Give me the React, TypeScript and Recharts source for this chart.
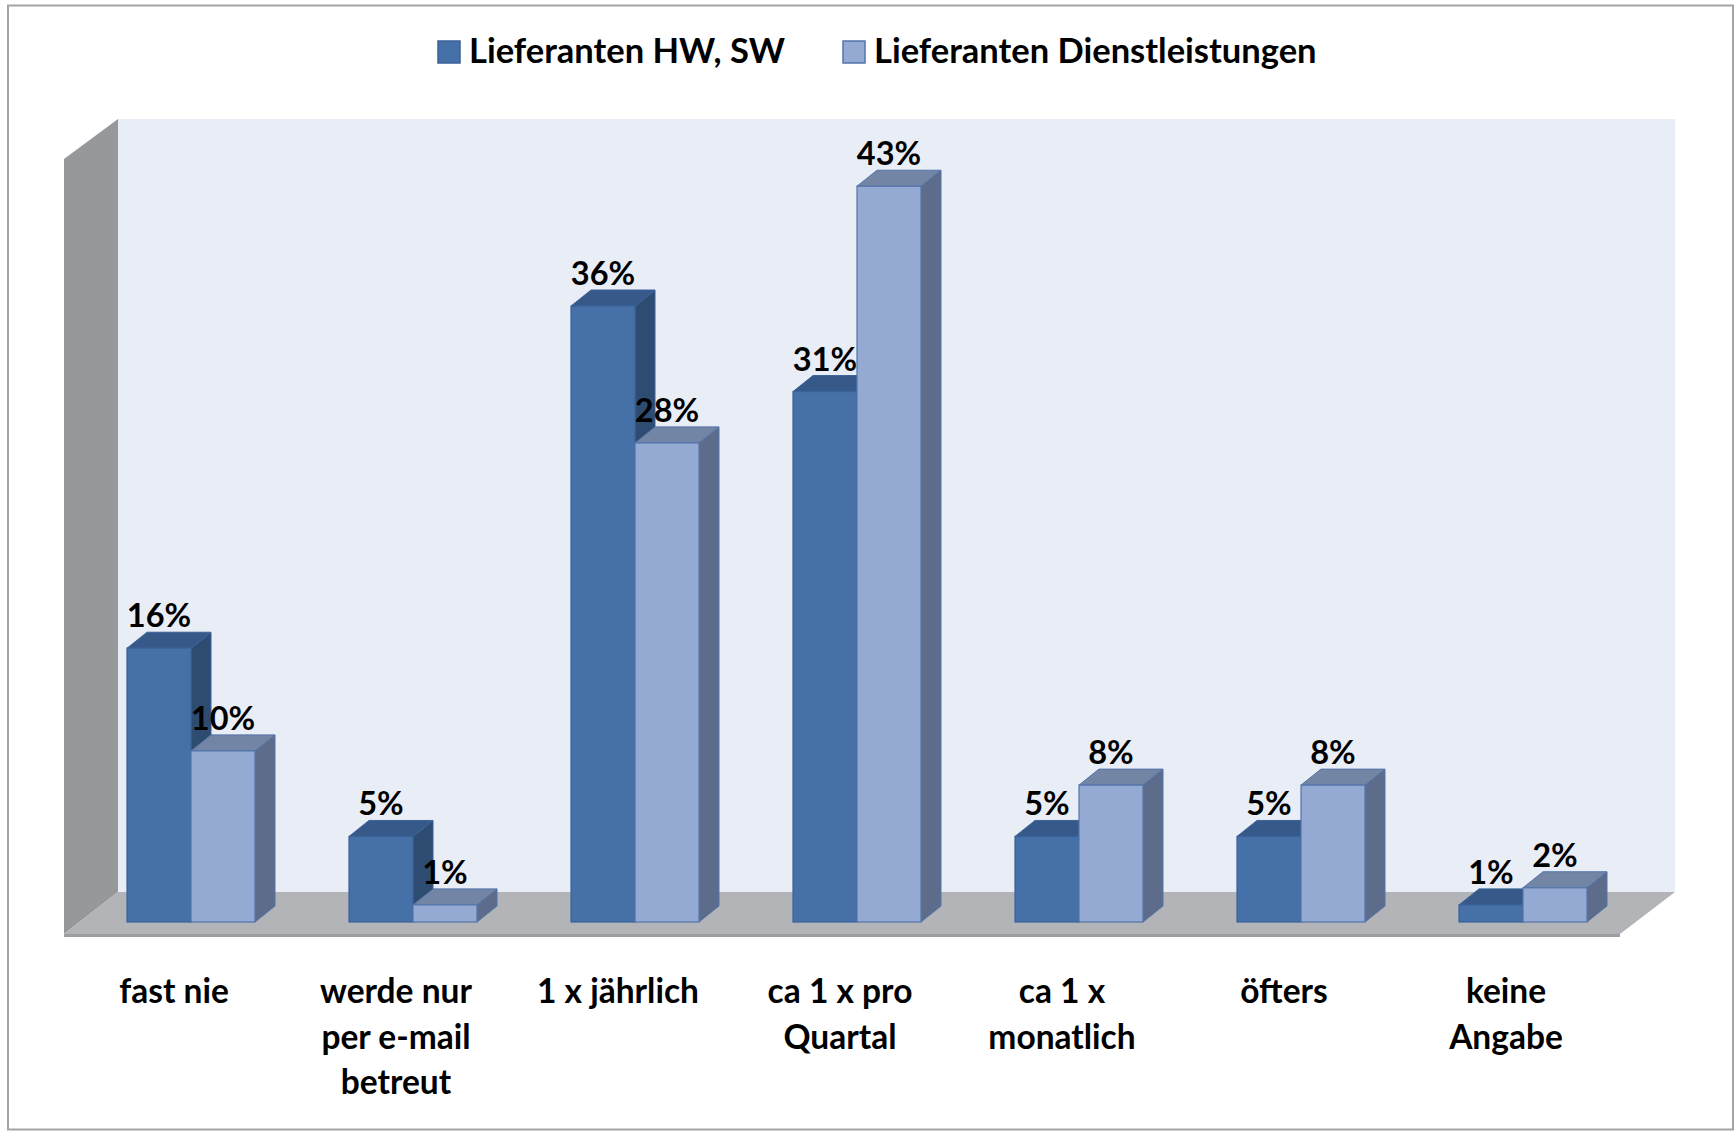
import React from "react";
import { BarChart, Bar, XAxis, YAxis, Legend, LabelList } from "recharts";

const CATEGORIES = [
  "fast nie",
  "werde nur\nper e-mail\nbetreut",
  "1 x jährlich",
  "ca 1 x pro\nQuartal",
  "ca 1 x\nmonatlich",
  "öfters",
  "keine\nAngabe",
];
const HW_SW = [16, 5, 36, 31, 5, 5, 1];
const DIENSTLEISTUNGEN = [10, 1, 28, 43, 8, 8, 2];
const SERIES_NAMES = ["Lieferanten HW, SW", "Lieferanten Dienstleistungen"];
const Y_DOMAIN: [number, number] = [0, 45];

const data = CATEGORIES.map((name, i) => ({
  name,
  hw: HW_SW[i],
  dl: DIENSTLEISTUNGEN[i],
}));

const W = 1735;
const H = 1132;
const AXIS_H = 210;
const MARGIN = { top: 152, right: 101, left: 80, bottom: 0 };
const PLOT_BOTTOM = H - AXIS_H;
const FONT = "Lato, 'Open Sans', sans-serif";

const DEPTH_X = 20;
const DEPTH_Y = 16;

const BLUE = { front: "#4571A8", top: "#36598A", side: "#2E4B72", edge: "#3A6399" };
const LIGHT = { front: "#95AAD3", top: "#7385A4", side: "#5D6C8A", edge: "#5274AB" };

// 3D box: front face, top face and right side
function box3d(c: typeof BLUE) {
  return (props: any) => {
    const { x, y, width, height } = props;
    if (height == null || width == null) return <g />;
    const b = y + height;
    const r = x + width;
    return (
      <g>
        <polygon
          points={`${r},${y} ${r + DEPTH_X},${y - DEPTH_Y} ${r + DEPTH_X},${b - DEPTH_Y} ${r},${b}`}
          fill={c.side}
          stroke={c.edge}
          strokeWidth={1}
        />
        <polygon
          points={`${x},${y} ${x + DEPTH_X},${y - DEPTH_Y} ${r + DEPTH_X},${y - DEPTH_Y} ${r},${y}`}
          fill={c.top}
          stroke={c.edge}
          strokeWidth={1}
        />
        <rect x={x} y={y} width={width} height={height} fill={c.front} stroke={c.edge} strokeWidth={1.2} />
      </g>
    );
  };
}

function ValueLabel(props: any) {
  const { x, y, width, value } = props;
  return (
    <text
      x={x + width / 2}
      y={y - 21}
      textAnchor="middle"
      fontFamily={FONT}
      fontWeight={700}
      fontSize={32.5}
      fill="#000"
    >
      {value}%
    </text>
  );
}

function CategoryTick(props: any) {
  const { x, payload } = props;
  const lines = String(payload.value).split("\n");
  const cx = x - 17;
  return (
    <text textAnchor="middle" fontFamily={FONT} fontWeight={700} fontSize={33.5} fill="#000">
      {lines.map((l, i) => (
        <tspan key={i} x={cx} y={PLOT_BOTTOM + 81 + i * 45.5}>
          {l}
        </tspan>
      ))}
    </text>
  );
}

const LEGEND_X = [438, 843];

function LegendContent(props: any) {
  const items = [...(props.payload || [])].sort(
    (a: any, b: any) => SERIES_NAMES.indexOf(a.value) - SERIES_NAMES.indexOf(b.value)
  );
  return (
    <svg width={W} height={90} style={{ display: "block" }}>
      {items.map((it: any, i: number) => {
        const edge = i === 0 ? BLUE.edge : LIGHT.edge;
        return (
          <g key={i}>
            <rect x={LEGEND_X[i]} y={41} width={22} height={22} fill={it.color} stroke={edge} strokeWidth={1.5} />
            <text
              x={LEGEND_X[i] + 31}
              y={63}
              fontFamily={FONT}
              fontWeight={700}
              fontSize={34.5}
              fill="#000"
            >
              {it.value}
            </text>
          </g>
        );
      })}
    </svg>
  );
}

// back wall, side wall and floor of the 3D frame
function Backdrop() {
  const bx0 = 118, bx1 = 1675, btop = 119, bfloor = 892;
  const fx0 = 64, fx1 = 1620, ftop = 159, ffloor = 934;
  return (
    <svg width={W} height={H} style={{ position: "absolute", left: 0, top: 0, zIndex: 0 }}>
      <rect x={8} y={5.5} width={1725} height={1124} fill="none" stroke="#A3A3A3" strokeWidth={2} />
      <rect x={bx0} y={btop} width={bx1 - bx0} height={bfloor - btop} fill="#E9EDF6" />
      <polygon points={`${fx0},${ftop} ${bx0},${btop} ${bx0},${bfloor} ${fx0},${ffloor}`} fill="#96989C" />
      <polygon points={`${fx0},${ffloor} ${bx0},${bfloor} ${bx1},${bfloor} ${fx1},${ffloor}`} fill="#B2B4B8" />
      <rect x={fx0} y={ffloor} width={fx1 - fx0} height={3} fill="#9C9EA1" />
    </svg>
  );
}

export default function App() {
  return (
    <div style={{ position: "absolute", left: 0, top: 0, width: W, height: H }}>
      <Backdrop />
      <div style={{ position: "absolute", left: 0, top: 0, zIndex: 1 }}>
        <BarChart width={W} height={H} data={data} margin={MARGIN} barGap={0} barSize={64}>
          <XAxis
            dataKey="name"
            height={AXIS_H}
            axisLine={false}
            tickLine={false}
            interval={0}
            tick={CategoryTick}
          />
          <YAxis hide domain={Y_DOMAIN} />
          <Legend
            layout="horizontal"
            verticalAlign="middle"
            align="center"
            wrapperStyle={{ top: 0, left: 0, width: W }}
            content={LegendContent}
          />
          <Bar dataKey="hw" name={SERIES_NAMES[0]} fill={BLUE.front} shape={box3d(BLUE)} isAnimationActive={false}>
            <LabelList dataKey="hw" content={ValueLabel} />
          </Bar>
          <Bar dataKey="dl" name={SERIES_NAMES[1]} fill={LIGHT.front} shape={box3d(LIGHT)} isAnimationActive={false}>
            <LabelList dataKey="dl" content={ValueLabel} />
          </Bar>
        </BarChart>
      </div>
    </div>
  );
}
